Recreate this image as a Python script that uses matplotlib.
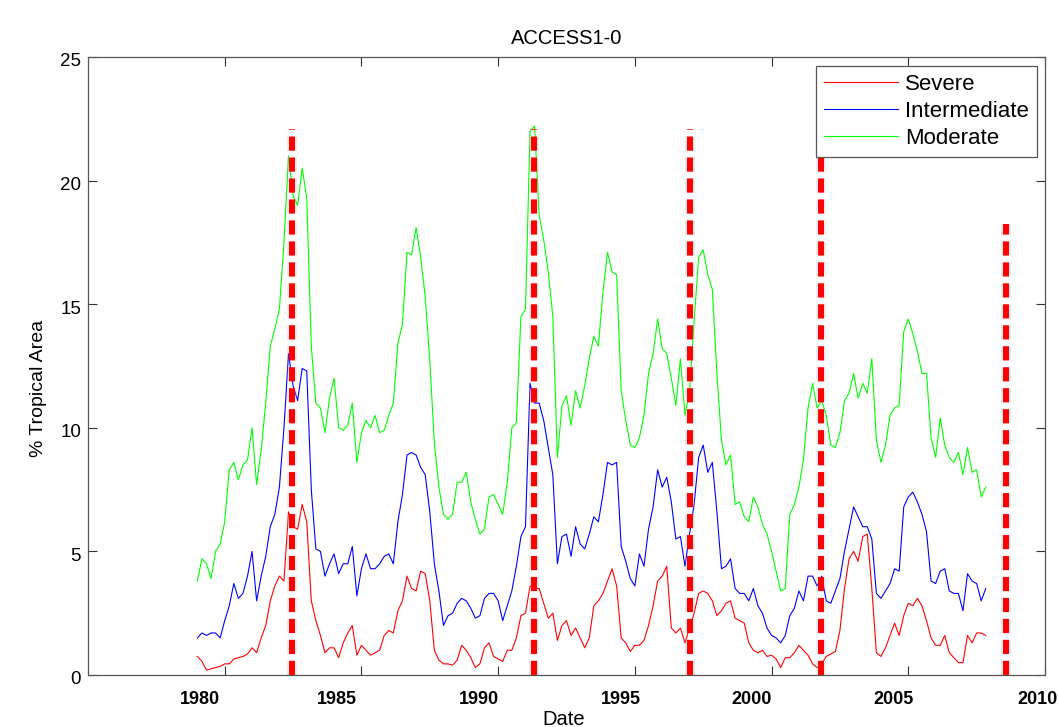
import numpy as np
import matplotlib
matplotlib.use("Agg")
import matplotlib.pyplot as plt
from matplotlib.transforms import ScaledTranslation
import matplotlib.patheffects as pe

plt.rcParams['font.family'] = ['Liberation Sans', 'DejaVu Sans']
plt.rcParams['lines.scale_dashes'] = False

# ---- data (bi-monthly readings, Jan 1979 .. late 2007) ----
start_year = 1979.0
step = 1.0 / 6.0

severe = [0.75, 0.55, 0.2, 0.25, 0.3, 0.35, 0.45, 0.45, 0.65, 0.7, 0.75, 0.85, 1.1, 0.9, 1.5, 2.0, 3.0, 3.6,
          4.0, 3.8, 6.6, 6.0, 5.9, 6.9, 6.2, 3.0, 2.2, 1.6, 0.9, 1.1, 1.1, 0.7, 1.3, 1.7, 2.0, 0.8,
          1.2, 1.0, 0.8, 0.9, 1.0, 1.6, 1.8, 1.7, 2.6, 3.0, 4.0, 3.5, 3.4, 4.2, 4.1, 3.0, 1.0, 0.6,
          0.45, 0.45, 0.4, 0.6, 1.2, 1.0, 0.7, 0.3, 0.45, 1.1, 1.3, 0.75, 0.65, 0.55, 1.0, 1.0, 1.5, 2.4, 2.5,
          3.6, 3.5, 3.5, 2.9, 2.3, 2.5, 1.4, 2.0, 2.2, 1.6, 1.9, 1.5, 1.1, 1.5, 2.8, 3.0, 3.3, 3.8,
          4.3, 3.6, 1.5, 1.3, 0.95, 1.2, 1.2, 1.4, 2.0, 2.8, 3.8, 4.0, 4.4, 1.9, 1.7, 1.9, 1.3, 1.9,
          2.5, 3.3, 3.4, 3.3, 3.0, 2.4, 2.6, 2.9, 3.0, 2.3, 2.2, 2.1, 1.3, 1.0, 0.9, 1.0, 0.75, 0.8,
          0.65, 0.3, 0.7, 0.7, 0.9, 1.2, 1.0, 0.8, 0.45, 0.3, 0.45, 0.75, 0.85, 0.95, 1.8, 3.5, 4.7, 5.0, 4.6,
          5.6, 5.7, 3.5, 0.9, 0.75, 1.1, 1.6, 2.1, 1.6, 2.4, 2.9, 2.8, 3.1, 2.8, 2.2, 1.5, 1.2, 1.2,
          1.6, 0.9, 0.7, 0.5, 0.5, 1.6, 1.3, 1.7, 1.7, 1.6]

intermediate = [1.5, 1.7, 1.6, 1.7, 1.7, 1.5, 2.2, 2.8, 3.7, 3.1, 3.3, 4.0, 5.0, 3.0, 4.0, 4.8, 6.0, 6.5,
                7.6, 10.0, 13.0, 11.7, 11.1, 12.4, 12.3, 7.5, 5.1, 5.0, 4.0, 4.5, 4.9, 4.1, 4.5, 4.5, 5.2, 3.2,
                4.3, 4.9, 4.3, 4.3, 4.5, 4.8, 4.9, 4.5, 6.2, 7.3, 8.9, 9.0, 8.9, 8.4, 8.1, 6.6, 4.5, 3.4,
                2.0, 2.4, 2.5, 2.9, 3.1, 3.0, 2.7, 2.3, 2.4, 3.1, 3.3, 3.3, 3.0, 2.2, 2.8, 3.4, 4.4, 5.6, 6.0,
                11.8, 11.0, 11.0, 10.3, 9.2, 8.1, 4.5, 5.6, 5.7, 4.8, 6.0, 5.3, 5.1, 5.7, 6.4, 6.2, 7.3, 8.6,
                8.5, 8.6, 5.2, 4.6, 3.9, 3.6, 4.9, 4.4, 5.9, 6.8, 8.3, 7.6, 8.0, 7.0, 5.5, 5.6, 4.4, 5.7,
                6.9, 8.8, 9.3, 8.2, 8.6, 6.6, 4.3, 4.4, 4.7, 3.5, 3.3, 3.3, 3.0, 3.5, 2.8, 2.5, 1.9, 1.6,
                1.5, 1.3, 1.6, 2.4, 2.7, 3.4, 3.0, 4.0, 4.0, 3.6, 4.0, 3.0, 2.9, 3.4, 3.9, 5.0, 5.9, 6.8, 6.4,
                6.0, 6.0, 5.5, 3.3, 3.1, 3.4, 3.7, 4.3, 4.2, 6.8, 7.2, 7.4, 7.0, 6.5, 5.8, 3.8, 3.7, 4.2,
                4.3, 3.4, 3.3, 3.3, 2.6, 4.1, 3.8, 3.7, 3.0, 3.5]

moderate = [3.8, 4.7, 4.5, 3.9, 5.0, 5.3, 6.2, 8.3, 8.6, 7.9, 8.5, 8.7, 10.0, 7.7, 9.1, 11.0, 13.3, 14.0,
            14.8, 17.5, 21.0, 19.4, 19.0, 20.5, 19.3, 13.3, 11.0, 10.8, 9.8, 11.2, 12.0, 10.0, 9.9, 10.1, 11.0, 8.6,
            9.8, 10.3, 10.0, 10.5, 9.8, 9.9, 10.5, 11.0, 13.4, 14.2, 17.1, 17.0, 18.1, 16.9, 15.3, 12.7, 9.4, 7.6,
            6.5, 6.3, 6.5, 7.8, 7.8, 8.2, 7.0, 6.3, 5.7, 5.9, 7.2, 7.3, 6.9, 6.5, 7.8, 10.0, 10.2, 14.5, 14.8,
            22.0, 22.2, 18.6, 17.6, 16.3, 14.5, 8.8, 10.9, 11.3, 10.1, 11.5, 10.8, 11.7, 12.8, 13.7, 13.3, 15.5, 17.1,
            16.3, 16.2, 11.5, 10.3, 9.3, 9.2, 9.6, 10.5, 12.2, 13.0, 14.4, 13.2, 13.0, 12.0, 10.9, 12.8, 10.5, 11.5,
            14.3, 16.9, 17.2, 16.2, 15.6, 12.2, 9.5, 8.5, 8.9, 6.9, 7.0, 6.4, 6.2, 7.2, 6.8, 6.1, 5.7, 5.0,
            4.2, 3.4, 3.5, 6.5, 6.9, 7.6, 8.7, 10.8, 11.8, 10.8, 11.1, 10.5, 9.3, 9.2, 9.8, 11.1, 11.4, 12.2, 11.2,
            11.8, 11.4, 12.8, 9.5, 8.6, 9.3, 10.5, 10.8, 10.9, 13.9, 14.4, 13.8, 13.1, 12.2, 12.2, 9.6, 8.8, 10.4,
            9.3, 8.8, 8.6, 9.0, 8.1, 9.2, 8.2, 8.3, 7.2, 7.6]

event_years = [1982.46, 1991.32, 1997.03, 2001.80, 2008.57]
event_tops = [22.1, 22.1, 22.1, 22.1, 18.25]

xtick_years = [1980, 1985, 1990, 1995, 2000, 2005, 2010]
xtick_labels = ['1980', '1985', '1990', '1995', '2000', '2005', '2010']
ytick_vals = [0, 5, 10, 15, 20, 25]
series_names = ['Severe', 'Intermediate', 'Moderate']

# ---- figure ----
W, H = 1059, 727
fig = plt.figure(figsize=(W / 100, H / 100), dpi=100)
ax = fig.add_axes([88 / W, 1 - 675 / H, (1045 - 88) / W, (675 - 57) / H])

n = len(severe)
t = start_year + step * np.arange(n)

ax.plot(t, severe, color='#ff0000', lw=0.8, label=series_names[0])
ax.plot(t, intermediate, color='#0000ff', lw=0.8, label=series_names[1])
ax.plot(t, moderate, color='#00ff00', lw=0.8, label=series_names[2])

for xe, top in zip(event_years, event_tops):
    ax.plot([xe, xe], [0, top], color='#ff0000', lw=4.3, linestyle=(0, (10.2, 4.9)),
            solid_capstyle='butt', dash_capstyle='butt', zorder=5,
            path_effects=[pe.Stroke(linewidth=7.0, foreground='#aaaaaa', alpha=0.25), pe.Normal()])

ax.set_xlim(1975, 2010)
ax.set_ylim(0, 25)

spine_col = '#555555'
for s in ax.spines.values():
    s.set_color(spine_col)
    s.set_linewidth(0.9)

ax.set_xticks(xtick_years)
ax.set_xticklabels(xtick_labels, fontsize=13, fontweight='bold')
ax.set_yticks(ytick_vals)
ax.set_yticklabels([str(v) for v in ytick_vals], fontsize=13.5)
ax.tick_params(axis='both', direction='in', length=6.5, width=0.8, colors='#333333',
               top=True, right=True)
ax.tick_params(axis='x', pad=11.5, labelcolor='black')
ax.tick_params(axis='y', pad=5, labelcolor='black')

# per-label horizontal offsets as in the reference (pixels)
x_off = [-25, -25, -19, -14, -20, -15, -8]
for lbl, dx in zip(ax.get_xticklabels(), x_off):
    lbl.set_transform(lbl.get_transform() + ScaledTranslation(dx / 100, 0, fig.dpi_scale_trans))
for lbl in ax.get_yticklabels():
    lbl.set_transform(lbl.get_transform() + ScaledTranslation(0, -3 / 100, fig.dpi_scale_trans))

ax.set_title('ACCESS1-0', fontsize=14.5, pad=9.5)
ax.set_xlabel('Date', fontsize=14.5)
ax.xaxis.set_label_coords((564 - 88) / 957, (675 - 710) / 618)
ax.set_ylabel('% Tropical Area', fontsize=14)
ax.yaxis.set_label_coords((47 - 88) / 957, (675 - 388) / 618)

leg = ax.legend(loc='upper right', bbox_to_anchor=(1037 / W, 1 - 66 / H),
                bbox_transform=fig.transFigure, fontsize=16, handlelength=3.35,
                handletextpad=0.3, labelspacing=0.26, borderpad=0.36, borderaxespad=0,
                fancybox=False, framealpha=1, edgecolor='#555555')
leg.get_frame().set_linewidth(0.9)

fig.savefig('out.png', dpi=100)
